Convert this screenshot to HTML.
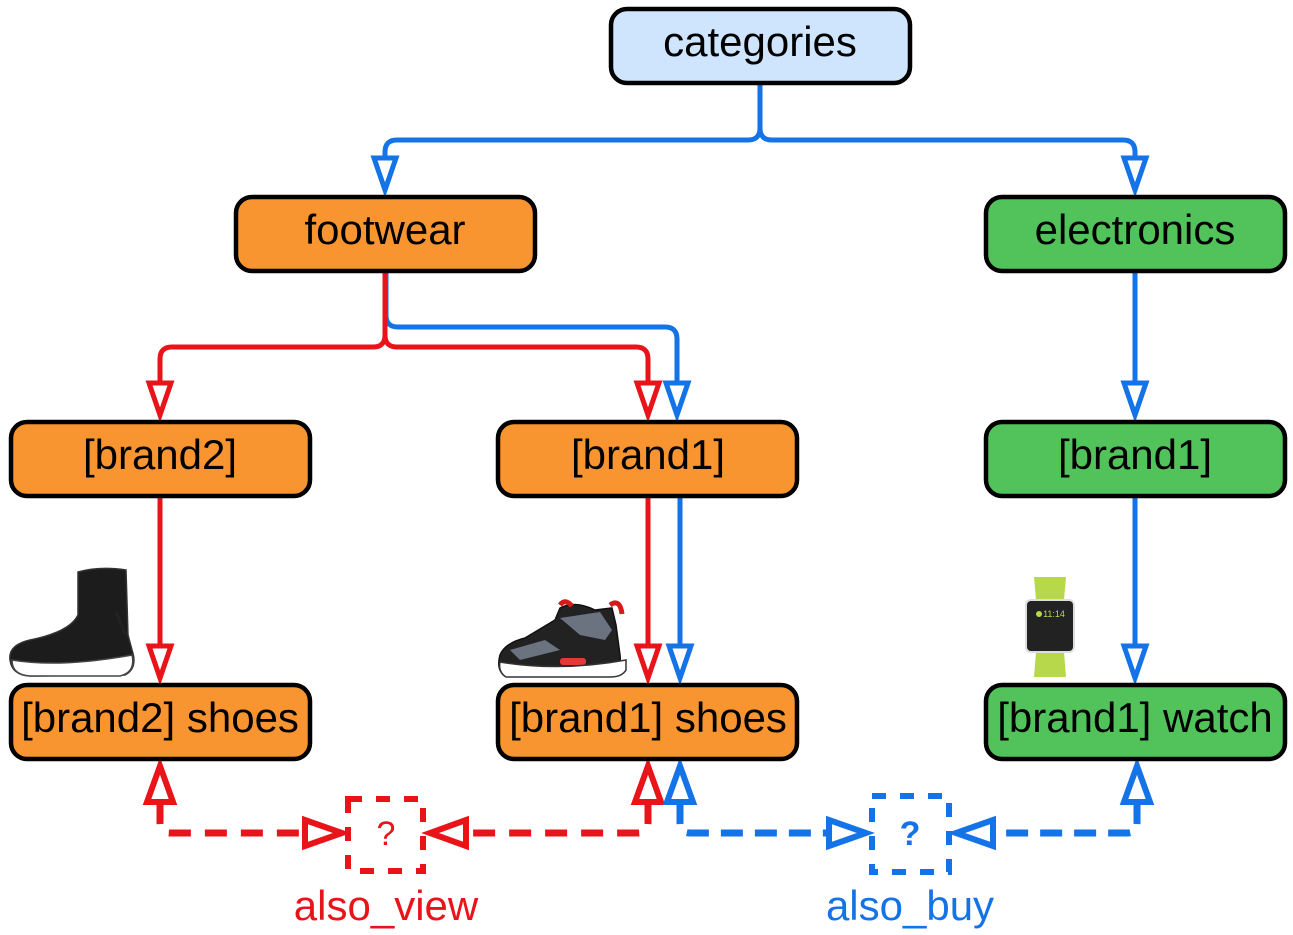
<!DOCTYPE html>
<html><head><meta charset="utf-8"><style>
html,body{margin:0;padding:0;background:#fff;}
svg{display:block;}
text{font-family:"Liberation Sans",sans-serif;}
</style></head><body>
<svg width="1293" height="935" viewBox="0 0 1293 935" xmlns="http://www.w3.org/2000/svg">
<g fill="none" stroke-width="5" stroke-linejoin="round">
<path d="M760 84 V128 Q760 140 748 140 H397 Q385 140 385 152 V160" stroke="#1473e6"/>
<path d="M760 128 Q760 140 772 140 H1123 Q1135 140 1135 152 V160" stroke="#1473e6"/>
<path d="M386 272 V315 Q386 327 398 327 H665 Q677 327 677 339 V383" stroke="#1473e6"/>
<path d="M385 272 V335 Q385 347 373 347 H172 Q160 347 160 359 V383" stroke="#e8141a"/>
<path d="M385 335 Q385 347 397 347 H636 Q648 347 648 359 V383" stroke="#e8141a"/>
<path d="M1135 272 V383" stroke="#1473e6"/>
<path d="M160 497 V646" stroke="#e8141a"/>
<path d="M648 497 V646" stroke="#e8141a"/>
<path d="M680 497 V646" stroke="#1473e6"/>
<path d="M1135 497 V646" stroke="#1473e6"/>
</g>
<g stroke-width="5" fill="#fff" stroke-linejoin="miter">
<polygon points="374,158 396,158 385,190" stroke="#1473e6"/>
<polygon points="1124,158 1146,158 1135,190" stroke="#1473e6"/>
<polygon points="149,383 171,383 160,415" stroke="#e8141a"/>
<polygon points="637,383 659,383 648,415" stroke="#e8141a"/>
<polygon points="666,383 688,383 677,415" stroke="#1473e6"/>
<polygon points="1124,383 1146,383 1135,415" stroke="#1473e6"/>
<polygon points="149,646 171,646 160,678" stroke="#e8141a"/>
<polygon points="637,646 659,646 648,678" stroke="#e8141a"/>
<polygon points="669,646 691,646 680,678" stroke="#1473e6"/>
<polygon points="1124,646 1146,646 1135,678" stroke="#1473e6"/>
</g>
<g fill="none" stroke-width="7">
<path d="M160 802 V823 Q160 833 170 833 H305" stroke="#e8141a" stroke-dasharray="22,14"/>
<path d="M648 802 V823 Q648 833 638 833 H466" stroke="#e8141a" stroke-dasharray="22,14"/>
<path d="M680 802 V823 Q680 833 690 833 H829" stroke="#1473e6" stroke-dasharray="22,12"/>
<path d="M1137 802 V823 Q1137 833 1127 833 H993" stroke="#1473e6" stroke-dasharray="22,12"/>
<rect x="348" y="799" width="75" height="72" stroke="#e8141a" stroke-width="6" stroke-dasharray="14,14"/>
<rect x="872" y="796" width="77" height="76" stroke="#1473e6" stroke-width="6" stroke-dasharray="14,14"/>
</g>
<g fill="#fff" stroke-width="6" stroke-linejoin="miter">
<polygon points="147,802 173,802 160,766" stroke="#e8141a"/>
<polygon points="635,802 661,802 648,766" stroke="#e8141a"/>
<polygon points="667,802 693,802 680,766" stroke="#1473e6"/>
<polygon points="1124,802 1150,802 1137,766" stroke="#1473e6"/>
<polygon points="305,820 305,846 342,833" stroke="#e8141a"/>
<polygon points="466,820 466,846 430,833" stroke="#e8141a"/>
<polygon points="829,820 829,846 866,833" stroke="#1473e6"/>
<polygon points="993,820 993,846 956,833" stroke="#1473e6"/>
</g>
<text x="386" y="845" font-size="34" fill="#e8141a" text-anchor="middle">?</text>
<text x="910" y="845" font-size="34" font-weight="bold" fill="#1473e6" text-anchor="middle">?</text>
<text x="386" y="920" font-size="42" fill="#e8141a" text-anchor="middle">also_view</text>
<text x="910" y="920" font-size="42" fill="#1473e6" text-anchor="middle">also_buy</text>
<g stroke="#000" stroke-width="4.5">
<rect x="611" y="9" width="299" height="74" rx="16" fill="#cfe4fd"/>
<rect x="236" y="197" width="299" height="74" rx="16" fill="#f99530"/>
<rect x="986" y="197" width="299" height="74" rx="16" fill="#52c35a"/>
<rect x="11" y="422" width="299" height="74" rx="16" fill="#f99530"/>
<rect x="498" y="422" width="299" height="74" rx="16" fill="#f99530"/>
<rect x="986" y="422" width="299" height="74" rx="16" fill="#52c35a"/>
<rect x="11" y="685" width="299" height="74" rx="16" fill="#f99530"/>
<rect x="498" y="685" width="299" height="74" rx="16" fill="#f99530"/>
<rect x="986" y="685" width="299" height="74" rx="16" fill="#52c35a"/>
</g>
<g font-size="42" fill="#000" text-anchor="middle">
<text x="760" y="56">categories</text>
<text x="385" y="244">footwear</text>
<text x="1135" y="244">electronics</text>
<text x="160" y="469">[brand2]</text>
<text x="648" y="469">[brand1]</text>
<text x="1135" y="469">[brand1]</text>
<text x="160" y="732">[brand2] shoes</text>
<text x="648" y="732">[brand1] shoes</text>
<text x="1135" y="732">[brand1] watch</text>
</g>
<g>
<path d="M10 660 Q8 645 30 640 Q70 632 78 615 L78 572 Q100 566 126 570 L128 635 L132 650 Q138 668 125 675 L30 676 Q12 675 10 660 Z" fill="#1c1c1c" stroke="#333" stroke-width="1.5"/>
<path d="M12 660 Q60 668 132 655 Q136 672 120 676 L30 676 Q12 675 12 660 Z" fill="#fff" stroke="#444" stroke-width="1.5"/>
<path d="M116 612 L125 634" stroke="#222" stroke-width="3"/>
</g>
<g>
<path d="M500 655 Q505 643 525 638 L555 620 L560 608 Q575 600 595 610 L612 608 L616 625 L620 655 Q622 674 610 676 L505 676 Q496 670 500 655 Z" fill="#222" stroke="#111" stroke-width="1.5"/>
<path d="M560 618 L600 612 L612 630 L605 640 L580 635 Z" fill="#6b7280"/>
<path d="M510 650 L545 640 L560 650 L520 660 Z" fill="#6b7280"/>
<path d="M560 605 Q565 598 572 606 M610 605 Q620 598 622 614" stroke="#d51a1a" stroke-width="5" fill="none"/>
<rect x="560" y="658" width="26" height="7" rx="3" fill="#e53935"/>
<path d="M500 662 Q560 672 626 660 L626 670 Q622 677 610 677 L506 677 Q498 672 500 662 Z" fill="#fff" stroke="#333" stroke-width="1.5"/>
</g>
<g>
<path d="M1034 577 L1066 577 L1064 600 L1036 600 Z" fill="#b6d84a"/>
<path d="M1036 652 L1064 652 L1066 677 L1034 677 Z" fill="#b6d84a"/>
<rect x="1026" y="600" width="48" height="52" rx="5" fill="#222" stroke="#ddd" stroke-width="2"/>
<circle cx="1039" cy="614" r="3" fill="#b6d84a"/>
<text x="1054" y="617" font-size="9" fill="#b6d84a" text-anchor="middle">11:14</text>
</g>
</svg>
</body></html>
